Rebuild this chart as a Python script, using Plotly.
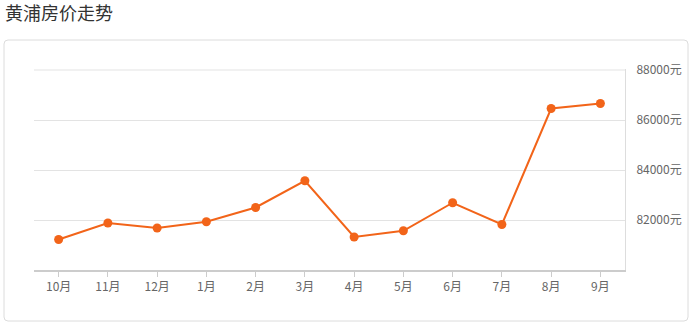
import plotly.graph_objects as go

months = ["10月", "11月", "12月", "1月", "2月", "3月", "4月", "5月", "6月", "7月", "8月", "9月"]
prices = [81220, 81880, 81680, 81930, 82500, 83570, 81320, 81570, 82690, 81820, 86460, 86660]
ytick_vals = [82000, 84000, 86000, 88000]
ytick_text = [f"{v}元" for v in ytick_vals]
title_text = "黄浦房价走势"

W, H = 689, 326
L, R, T, B = 34, 64, 69, 56
pw, ph = W - L - R, H - T - B

def px_x(x):
    return (x - L) / pw

def px_y(y):
    return (H - B - y) / ph

# rounded border box
x0, x1, y0, y1 = px_x(4), px_x(688), px_y(40), px_y(321)
rx, ry = 4 / pw, 4 / ph
path = (f"M {x0+rx},{y0} L {x1-rx},{y0} Q {x1},{y0} {x1},{y0-ry} "
        f"L {x1},{y1+ry} Q {x1},{y1} {x1-rx},{y1} L {x0+rx},{y1} "
        f"Q {x0},{y1} {x0},{y1+ry} L {x0},{y0-ry} Q {x0},{y0} {x0+rx},{y0} Z")

grid_color = "#e3e3e3"
color = "#f26419"
fig = go.Figure()
fig.add_trace(go.Scatter(
    x=months, y=prices, mode="lines+markers",
    line=dict(color=color, width=2),
    marker=dict(color=color, size=9),
    hoverinfo="x+y", showlegend=False, cliponaxis=False,
))

shapes = [dict(type="path", xref="paper", yref="paper", path=path,
               line=dict(color="#dcdcdc", width=1), fillcolor="rgba(0,0,0,0)", layer="below")]
# gridline at the top tick (Plotly hides gridlines at the plot edge)
shapes.append(dict(type="line", xref="paper", yref="y", x0=0, x1=1,
                   y0=ytick_vals[-1], y1=ytick_vals[-1],
                   line=dict(color=grid_color, width=1), layer="below"))

font_family = "Noto Sans CJK SC, Noto Sans, sans-serif"
fig.update_layout(
    width=W, height=H,
    margin=dict(l=L, r=R, t=T, b=B, autoexpand=False),
    paper_bgcolor="white", plot_bgcolor="white",
    font=dict(family=font_family, color="#666666", size=12),
    shapes=shapes,
    annotations=[dict(text=title_text, xref="paper", yref="paper",
                      x=px_x(3), y=px_y(12), xanchor="left", yanchor="middle",
                      showarrow=False, font=dict(size=18, color="#333333", family=font_family))],
)
fig.update_xaxes(
    type="category", range=[-0.5, 11.5], automargin=False,
    showline=True, linecolor="#cccccc", linewidth=2,
    ticks="outside", ticklen=5, tickcolor="#cccccc", tickwidth=1,
    showgrid=False, zeroline=False,
    tickfont=dict(size=12, color="#666666"),
)
fig.update_yaxes(
    side="right", range=[80000, 88040], automargin=False,
    tickvals=ytick_vals, ticktext=ytick_text,
    showgrid=True, gridcolor=grid_color, gridwidth=1,
    showline=True, linecolor="#dddddd", linewidth=1,
    zeroline=False, ticks="", ticklabelstandoff=8,
    tickfont=dict(size=12, color="#666666"),
)
fig.write_html("out.html")
